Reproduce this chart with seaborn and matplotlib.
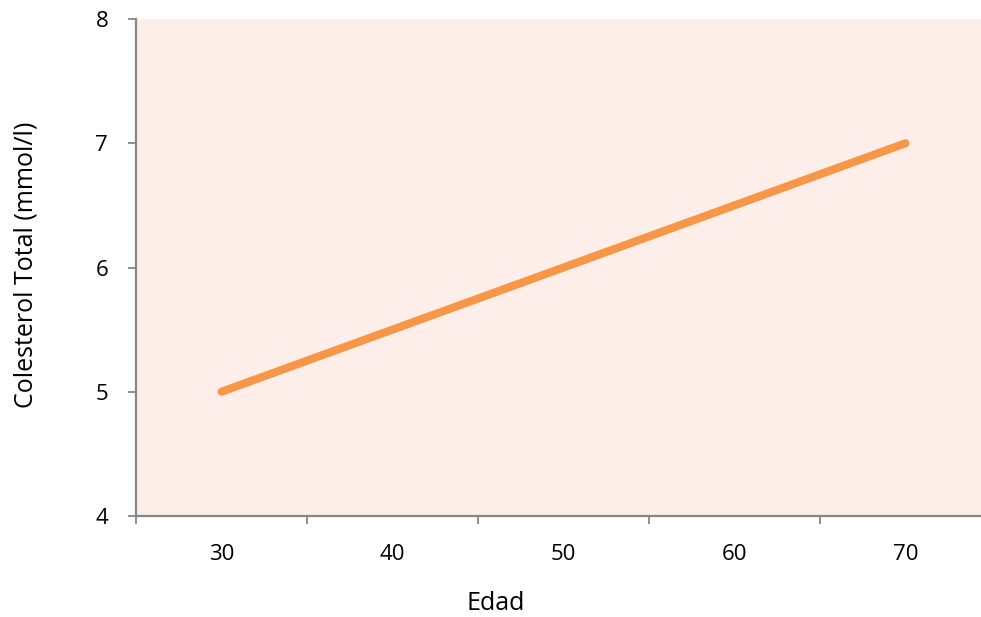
import matplotlib
matplotlib.use("Agg")
import matplotlib.pyplot as plt
import seaborn as sns
import pandas as pd

edad = ["30", "40", "50", "60", "70"]
colesterol = [5.0, 5.5, 6.0, 6.5, 7.0]
y_ticks = [4, 5, 6, 7, 8]

sns.set_theme(style="white")
plt.rcParams['font.family'] = ['Open Sans', 'DejaVu Sans']

df = pd.DataFrame({"Edad": edad, "Colesterol": colesterol})

fig = plt.figure(figsize=(9.81, 6.17), dpi=100)
ax = fig.add_axes([136/981, 1-516/617, (991-136)/981, (516-19)/617])
ax.set_facecolor("#FDEEE9")

sns.lineplot(data=df, x="Edad", y="Colesterol", ax=ax, color="#F79646",
             linewidth=5.8, solid_capstyle="round", sort=False)

ax.set_xlim(-0.5, 4.5)
ax.set_ylim(4, 8)
ax.set_yticks(y_ticks)
ax.set_yticklabels([str(v) for v in y_ticks], fontsize=16, color="black")

# category labels at centres, tick marks at boundaries
ax.set_xticks(range(len(edad)))
ax.set_xticklabels(edad, fontsize=16, color="black")
ax.set_xticks([i - 0.5 for i in range(len(edad) + 1)], minor=True)
ax.tick_params(axis="x", which="major", length=0, pad=20)
ax.tick_params(axis="x", which="minor", length=6, width=1.3, color="#868686", direction="out", bottom=True)
ax.tick_params(axis="y", length=6, width=1.3, color="#868686", direction="out", left=True, pad=14)

for s in ["top", "right"]:
    ax.spines[s].set_visible(False)
for s in ["left", "bottom"]:
    ax.spines[s].set_color("#868686")
    ax.spines[s].set_linewidth(1.6)

ax.set_xlabel("Edad", fontsize=18, color="black")
ax.set_ylabel("Colesterol Total (mmol/l)", fontsize=18, color="black")
ax.xaxis.set_label_coords((496-136)/(991-136), -(603-516)/497)
ax.yaxis.set_label_coords(-(136-26)/855, (516-265)/497)
ax.xaxis.label.set_va("center")
ax.yaxis.label.set_va("center")

fig.savefig("out.png", dpi=100)
